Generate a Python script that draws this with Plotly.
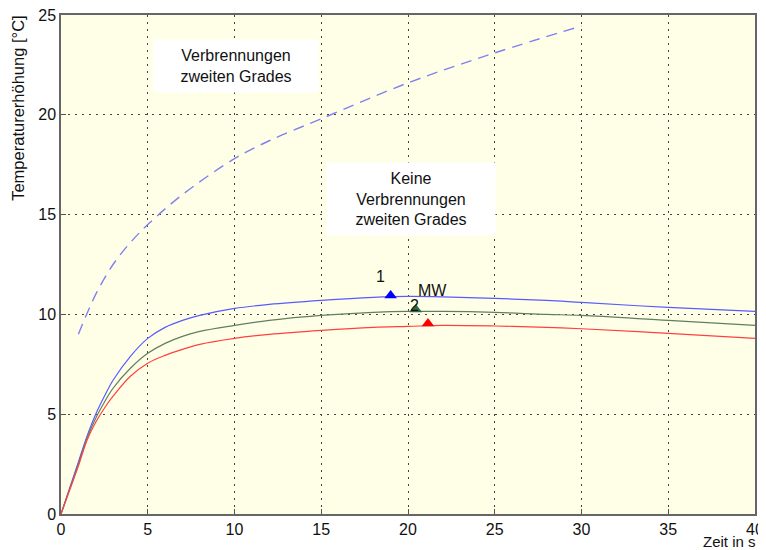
import plotly.graph_objects as go

# Zeitachse (s) und Temperaturerhöhung (°C) der drei Kurven
zeit = [0, 0.5, 1, 1.5, 2, 2.5, 3, 4, 5, 6, 7, 8, 10, 12, 15, 18, 20, 22, 25, 28, 30, 35, 40]
kurve_1 = [0, 1.3, 2.6, 3.9, 5.0, 5.9, 6.7, 7.9, 8.8, 9.35, 9.7, 9.95, 10.3, 10.5, 10.7, 10.85,
           10.9, 10.88, 10.8, 10.7, 10.6, 10.35, 10.15]
kurve_mw = [0, 1.25, 2.5, 3.8, 4.8, 5.6, 6.3, 7.3, 8.05, 8.55, 8.9, 9.15, 9.45, 9.7, 9.95, 10.1,
            10.15, 10.15, 10.1, 10.0, 9.95, 9.7, 9.45]
kurve_2 = [0, 1.2, 2.4, 3.7, 4.6, 5.3, 5.9, 6.9, 7.55, 7.95, 8.25, 8.5, 8.8, 9.0, 9.2, 9.35,
           9.4, 9.45, 9.42, 9.35, 9.28, 9.05, 8.8]

# Grenzkurve Verbrennungen zweiten Grades (gestrichelt)
zeit_grenze = [1, 2, 3, 4, 5, 7, 10, 12, 15, 20, 25, 30]
grenze = [9.0, 11.0, 12.5, 13.6, 14.5, 16.0, 17.8, 18.7, 19.8, 21.6, 23.1, 24.45]

# Maxima (Dreiecke)
max_t = [19.0, 20.45, 21.15]
max_y = [10.95, 10.25, 9.55]
max_farben = ['#0000ff', '#2e6b45', '#ff0000']

fig = go.Figure()
fig.add_trace(go.Scatter(x=zeit_grenze, y=grenze, mode='lines',
                         line=dict(color='#8080f0', width=1.4, dash='11px,7px', shape='spline')))
fig.add_trace(go.Scatter(x=zeit, y=kurve_1, mode='lines', line=dict(color='#5a5aff', width=1.2, shape='spline')))
fig.add_trace(go.Scatter(x=zeit, y=kurve_mw, mode='lines', line=dict(color='#5f7f5f', width=1.2, shape='spline')))
fig.add_trace(go.Scatter(x=zeit, y=kurve_2, mode='lines', line=dict(color='#ff4040', width=1.2, shape='spline')))
fig.add_trace(go.Scatter(x=max_t, y=max_y, mode='markers',
                         marker=dict(symbol='triangle-up', size=11, color=max_farben)))

schrift = 'Liberation Sans, Arial, sans-serif'
txt = dict(family=schrift, size=16, color='#111')
fig.add_annotation(x=10.1, y=22.45, text='Verbrennungen<br>zweiten Grades', showarrow=False,
                   bgcolor='white', font=txt, borderpad=7, width=150, height=38)
fig.add_annotation(x=20.2, y=15.8, text='Keine<br>Verbrennungen<br>zweiten Grades', showarrow=False,
                   bgcolor='white', font=txt, borderpad=6, width=156, height=60)
fig.add_annotation(x=18.4, y=11.9, text='1', showarrow=False, font=txt)
fig.add_annotation(x=21.4, y=11.2, text='MW', showarrow=False, font=txt)
fig.add_annotation(x=20.4, y=10.45, text='2', showarrow=False, font=txt)
fig.add_annotation(x=1, y=0, xref='paper', yref='paper', xanchor='right', yanchor='top', yshift=-17, xshift=3,
                   text='Zeit in s', showarrow=False, font=dict(family=schrift, size=15, color='#111'))
# y-Achsentitel oben links wie im Original
fig.add_annotation(x=0, y=20.3, xref='paper', yref='y', xanchor='center', yanchor='middle', xshift=-43,
                   textangle=-90, text='Temperaturerhöhung [°C]', showarrow=False,
                   font=dict(family=schrift, size=16.5, color='#111'))

achse = dict(showline=True, linecolor='#666', linewidth=1.5, mirror=True, ticks='inside', ticklen=5,
             tickcolor='#555', showgrid=True, gridcolor='#444', griddash='2px,5px', gridwidth=1,
             zeroline=False, automargin=False, ticklabeloverflow='allow',
             tickfont=dict(family=schrift, size=16, color='#111'))
fig.update_xaxes(range=[0, 40], dtick=5, **achse)
fig.update_yaxes(range=[0, 25], dtick=5, **achse)

# Seite hat 8px Rand, daher Figur etwas kleiner und Ränder verschoben
fig.update_layout(width=758, height=542, showlegend=False, plot_bgcolor='#ffffe8', paper_bgcolor='white',
                  margin=dict(l=53, r=11, t=7, b=36))
fig.write_html('out.html')
